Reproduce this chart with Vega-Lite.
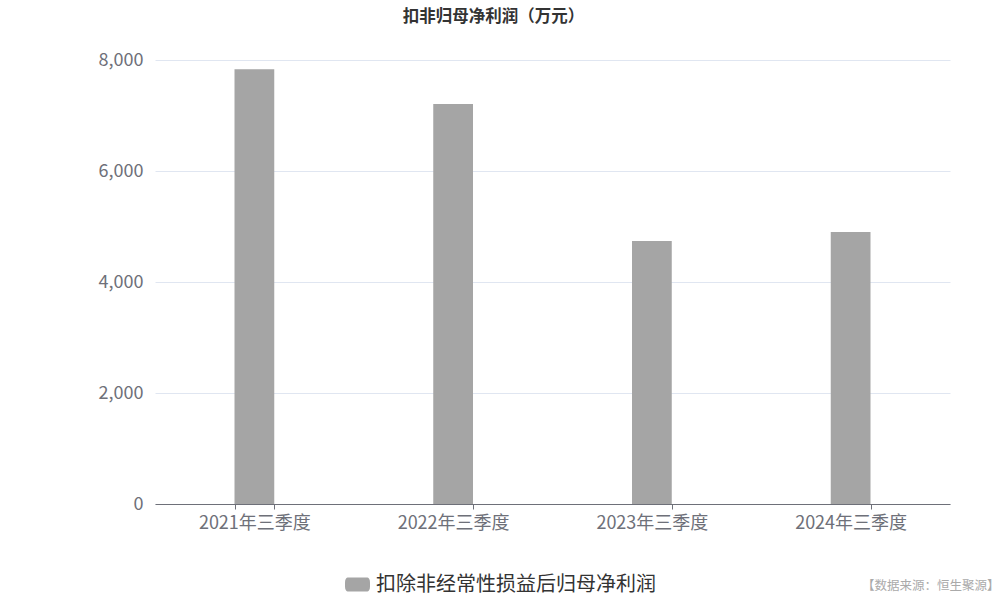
{
  "$schema": "https://vega.github.io/schema/vega-lite/v6.json",
  "width": 795,
  "height": 444,
  "autosize": {"type": "none"},
  "padding": {"left": 155, "top": 60, "right": 50, "bottom": 96},
  "background": "#ffffff",
  "config": {
    "font": "Noto Sans CJK SC",
    "view": {"stroke": null}
  },
  "title": {
    "text": "扣非归母净利润（万元）",
    "fontSize": 16.5,
    "fontWeight": "bold",
    "color": "#333333",
    "anchor": "middle",
    "dx": -59,
    "offset": 26
  },
  "data": {
    "values": [
      {"period": "2021年三季度", "series": "扣除非经常性损益后归母净利润", "value": 7832},
      {"period": "2022年三季度", "series": "扣除非经常性损益后归母净利润", "value": 7207},
      {"period": "2023年三季度", "series": "扣除非经常性损益后归母净利润", "value": 4739},
      {"period": "2024年三季度", "series": "扣除非经常性损益后归母净利润", "value": 4901}
    ]
  },
  "mark": {"type": "bar"},
  "encoding": {
    "x": {
      "field": "period",
      "type": "nominal",
      "sort": null,
      "scale": {"paddingInner": 0.8, "paddingOuter": 0.4},
      "axis": {
        "title": "【数据来源：恒生聚源】",
        "titleColor": "#aaaaaa",
        "titleFontSize": 12.5,
        "titleFontWeight": "normal",
        "titleAnchor": "end",
        "titleAlign": "right",
        "titleBaseline": "middle",
        "titleX": 844,
        "titleY": 81,
        "labelAngle": 0,
        "labelFontSize": 18,
        "labelColor": "#6e7079",
        "labelPadding": 5,
        "domainColor": "#6e7079",
        "tickColor": "#6e7079",
        "tickSize": 5,
        "tickBand": "extent",
        "grid": false
      }
    },
    "y": {
      "field": "value",
      "type": "quantitative",
      "scale": {"domain": [0, 8000]},
      "axis": {
        "title": null,
        "values": [0, 2000, 4000, 6000, 8000],
        "format": ",.0f",
        "labelFontSize": 18,
        "labelColor": "#6e7079",
        "labelPadding": 12,
        "domain": false,
        "ticks": false,
        "gridColor": "#e0e6f1"
      }
    },
    "color": {
      "field": "series",
      "type": "nominal",
      "scale": {"range": ["#a5a5a5"]},
      "legend": {
        "title": null,
        "orient": "none",
        "legendX": 190,
        "legendY": 512,
        "labelFontSize": 20,
        "labelColor": "#333333",
        "labelLimit": 0,
        "symbolType": "M-0.8,-0.56 L0.8,-0.56 A0.2,0.4 0 0 1 1,-0.16 L1,0.16 A0.2,0.4 0 0 1 0.8,0.56 L-0.8,0.56 A0.2,0.4 0 0 1 -1,0.16 L-1,-0.16 A0.2,0.4 0 0 1 -0.8,-0.56 Z",
        "symbolSize": 625,
        "symbolStrokeWidth": 0,
        "symbolOpacity": 1,
        "labelOffset": 6
      }
    }
  }
}
